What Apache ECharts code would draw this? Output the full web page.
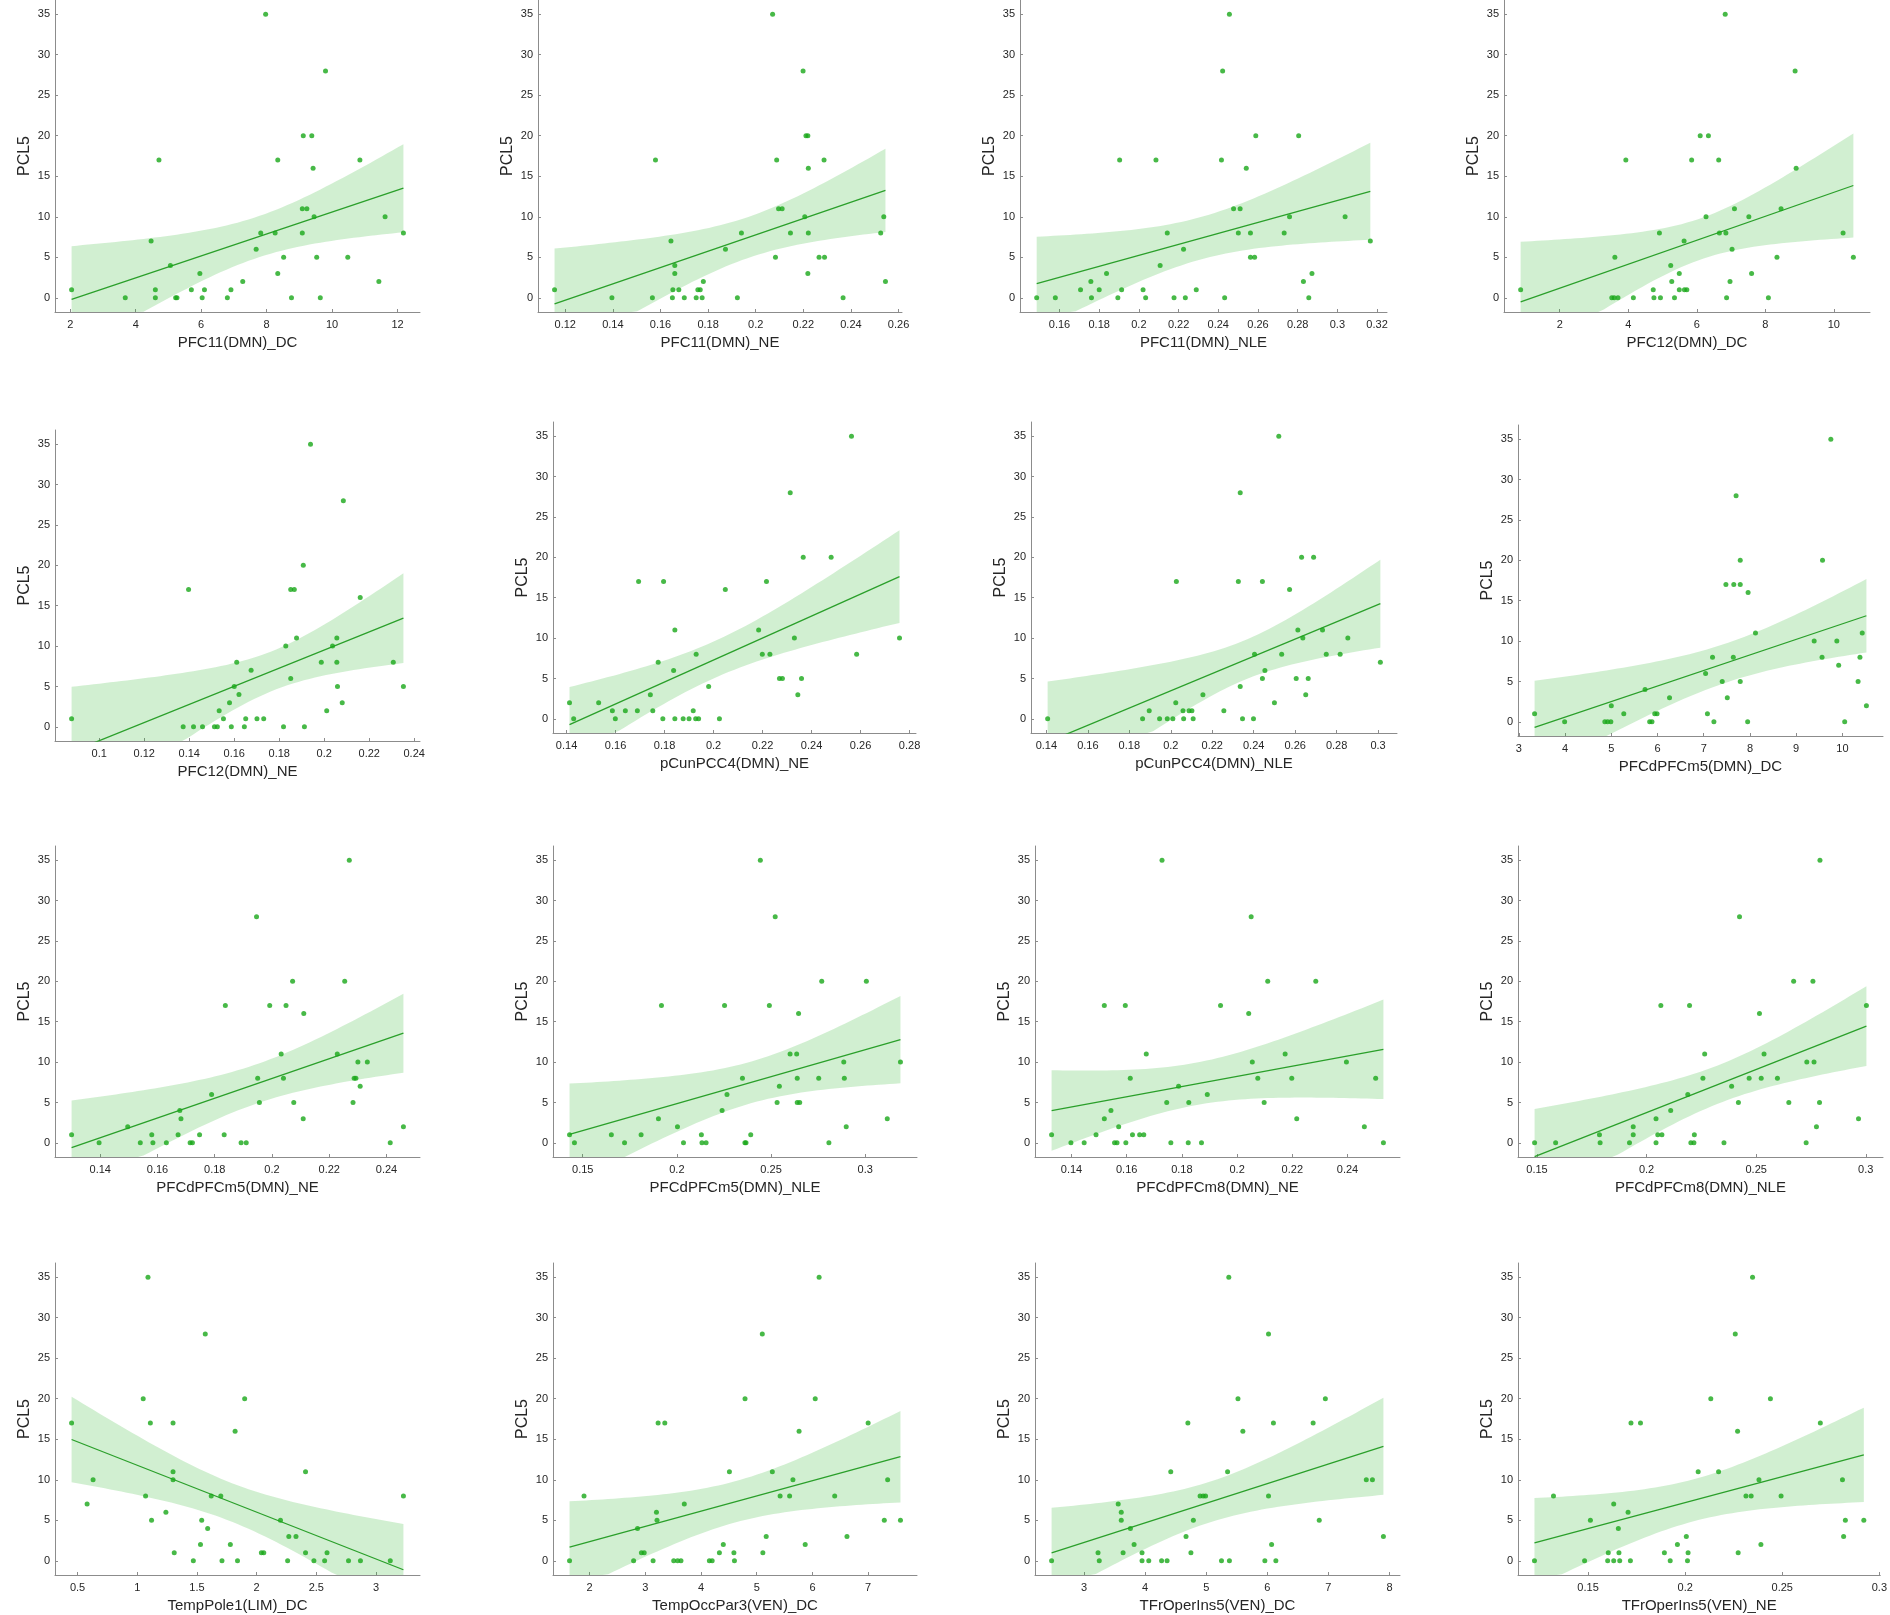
<!DOCTYPE html>
<html>
<head>
<meta charset="utf-8">
<title>PCL5 scatter plots</title>
<script src="https://cdn.jsdelivr.net/npm/echarts@6/dist/echarts.min.js"></script>
<style>
  html, body { margin: 0; padding: 0; background: #fff; }
  #chart { width: 1890px; height: 1615px; }
</style>
</head>
<body>
<div id="chart"></div>
<script>
// x labels of the 16 panels, y is always PCL5
const panelNames = [
    'PFC11(DMN)_DC', 'PFC11(DMN)_NE', 'PFC11(DMN)_NLE', 'PFC12(DMN)_DC',
    'PFC12(DMN)_NE', 'pCunPCC4(DMN)_NE', 'pCunPCC4(DMN)_NLE', 'PFCdPFCm5(DMN)_DC',
    'PFCdPFCm5(DMN)_NE', 'PFCdPFCm5(DMN)_NLE', 'PFCdPFCm8(DMN)_NE', 'PFCdPFCm8(DMN)_NLE',
    'TempPole1(LIM)_DC', 'TempOccPar3(VEN)_DC', 'TFrOperIns5(VEN)_DC', 'TFrOperIns5(VEN)_NE'
];

const xTicks = [
    [2, 4, 6, 8, 10, 12],
    [0.12, 0.14, 0.16, 0.18, 0.2, 0.22, 0.24, 0.26],
    [0.16, 0.18, 0.2, 0.22, 0.24, 0.26, 0.28, 0.3, 0.32],
    [2, 4, 6, 8, 10],
    [0.1, 0.12, 0.14, 0.16, 0.18, 0.2, 0.22, 0.24],
    [0.14, 0.16, 0.18, 0.2, 0.22, 0.24, 0.26, 0.28],
    [0.14, 0.16, 0.18, 0.2, 0.22, 0.24, 0.26, 0.28, 0.3],
    [3, 4, 5, 6, 7, 8, 9, 10],
    [0.14, 0.16, 0.18, 0.2, 0.22, 0.24],
    [0.15, 0.2, 0.25, 0.3],
    [0.14, 0.16, 0.18, 0.2, 0.22, 0.24],
    [0.15, 0.2, 0.25, 0.3],
    [0.5, 1, 1.5, 2, 2.5, 3],
    [2, 3, 4, 5, 6, 7],
    [3, 4, 5, 6, 7, 8],
    [0.15, 0.2, 0.25, 0.3]
];

const yTicks = [0, 5, 10, 15, 20, 25, 30, 35];

// [x, PCL5] per panel
const pfc11Dc = [[2.04,1],[3.68,0],[4.47,7],[4.6,1],[4.6,0],[4.71,17],[5.06,4],[5.22,0],[5.26,0],[5.7,1],[5.96,3],[6.03,0],[6.1,1],[6.8,0],[6.91,1],[7.27,2],[7.68,6],[7.82,8],[7.97,35],[8.26,8],[8.34,17],[8.34,3],[8.52,5],[8.76,0],[9.09,11],[9.23,11],[9.09,8],[9.12,20],[9.38,20],[9.42,16],[9.45,10],[9.53,5],[9.64,0],[9.8,28],[10.48,5],[10.85,17],[11.43,2],[11.62,10],[12.18,8]];
const pfc11Ne = [[0.1155,1],[0.1396,0],[0.1566,0],[0.1579,17],[0.1644,7],[0.165,0],[0.1652,1],[0.166,4],[0.166,3],[0.1677,1],[0.17,0],[0.175,0],[0.1757,1],[0.1767,1],[0.1775,0],[0.178,2],[0.1873,6],[0.1923,0],[0.194,8],[0.2071,35],[0.2083,5],[0.2088,17],[0.2096,11],[0.2111,11],[0.2146,8],[0.2199,28],[0.2206,10],[0.2211,20],[0.2219,20],[0.2219,3],[0.2221,16],[0.2221,8],[0.2266,5],[0.2287,17],[0.2289,5],[0.2367,0],[0.2525,8],[0.2538,10],[0.2545,2]];
const pfc11Nle = [[0.1485,0],[0.1579,0],[0.1706,1],[0.1758,2],[0.1761,0],[0.18,1],[0.1837,3],[0.1894,0],[0.1903,17],[0.1913,1],[0.2021,1],[0.2034,0],[0.2086,17],[0.2107,4],[0.2143,8],[0.2177,0],[0.2225,6],[0.2234,0],[0.2289,1],[0.2416,17],[0.2422,28],[0.2432,0],[0.2456,35],[0.2477,11],[0.2501,8],[0.251,11],[0.2541,16],[0.2562,8],[0.2562,5],[0.2583,5],[0.2589,20],[0.2732,8],[0.2759,10],[0.2805,20],[0.2829,2],[0.2856,0],[0.2872,3],[0.3039,10],[0.3166,7]];
const pfc12Dc = [[0.86,1],[3.52,0],[3.59,0],[3.61,5],[3.7,0],[3.93,17],[4.15,0],[4.73,1],[4.75,0],[4.91,8],[4.94,0],[5.24,4],[5.27,2],[5.35,0],[5.49,3],[5.49,1],[5.63,7],[5.64,1],[5.71,1],[5.85,17],[6.1,20],[6.27,10],[6.34,20],[6.64,17],[6.66,8],[6.83,35],[6.85,8],[6.87,0],[6.97,2],[7.03,6],[7.1,11],[7.52,10],[7.6,3],[8.09,0],[8.34,5],[8.46,11],[8.87,28],[8.9,16],[10.27,8],[10.57,5]];
const pfc12Ne = [[0.0877,1],[0.1373,0],[0.1397,17],[0.1419,0],[0.1459,0],[0.1512,0],[0.1525,0],[0.1533,2],[0.1552,1],[0.1587,0],[0.1579,3],[0.16,5],[0.1611,8],[0.1621,4],[0.1645,0],[0.1651,1],[0.1675,7],[0.1701,1],[0.1731,1],[0.1819,0],[0.1829,10],[0.1851,6],[0.1851,17],[0.1867,17],[0.1877,11],[0.1907,20],[0.1912,0],[0.1939,35],[0.1987,8],[0.2011,2],[0.2037,10],[0.2056,11],[0.2056,8],[0.2059,5],[0.2085,28],[0.208,3],[0.216,16],[0.2307,8],[0.2352,5]];
const pcunNe = [[0.1412,2],[0.1429,0],[0.1531,2],[0.1587,1],[0.1599,0],[0.164,1],[0.1689,1],[0.1694,17],[0.1742,3],[0.1752,1],[0.1774,7],[0.1793,0],[0.1796,17],[0.1837,6],[0.1842,0],[0.1842,11],[0.1876,0],[0.19,0],[0.1917,1],[0.1929,8],[0.1927,0],[0.1939,0],[0.198,4],[0.2024,0],[0.2048,16],[0.2184,11],[0.2199,8],[0.2216,17],[0.223,8],[0.2269,5],[0.2281,5],[0.2313,28],[0.233,10],[0.2344,3],[0.2359,5],[0.2366,20],[0.248,20],[0.2563,35],[0.2584,8],[0.2759,10]];
const pcunNle = [[0.1406,0],[0.1864,0],[0.1896,1],[0.1946,0],[0.1983,0],[0.201,0],[0.2024,2],[0.2027,17],[0.2059,1],[0.2062,0],[0.2088,1],[0.2102,1],[0.2108,0],[0.2155,3],[0.2256,1],[0.2326,17],[0.2335,28],[0.2335,4],[0.2346,0],[0.2399,0],[0.2404,8],[0.2442,17],[0.2442,5],[0.2454,6],[0.25,2],[0.2521,35],[0.2535,8],[0.2573,16],[0.2605,5],[0.2613,11],[0.2631,20],[0.2637,10],[0.2651,3],[0.2663,5],[0.2689,20],[0.2732,11],[0.275,8],[0.2817,8],[0.2854,10],[0.3011,7]];
const dpfc5Dc = [[3.34,1],[3.99,0],[4.86,0],[4.92,0],[4.99,0],[5.0,2],[5.27,1],[5.73,4],[5.83,0],[5.88,0],[5.94,1],[5.99,1],[6.26,3],[7.04,6],[7.08,1],[7.19,8],[7.22,0],[7.4,5],[7.48,17],[7.51,3],[7.64,8],[7.65,17],[7.7,28],[7.79,20],[7.79,5],[7.79,17],[7.96,16],[7.95,0],[8.12,11],[9.39,10],[9.56,8],[9.57,20],[9.75,35],[9.88,10],[9.92,7],[10.05,0],[10.34,5],[10.38,8],[10.43,11],[10.52,2]];
const dpfc5Ne = [[0.13,1],[0.1396,0],[0.1496,2],[0.154,0],[0.158,1],[0.1584,0],[0.1631,0],[0.1672,1],[0.1678,4],[0.1682,3],[0.1714,0],[0.1722,0],[0.1747,1],[0.1789,6],[0.1833,1],[0.1837,17],[0.1892,0],[0.191,0],[0.1946,28],[0.195,8],[0.1956,5],[0.1992,17],[0.2032,11],[0.204,8],[0.2049,17],[0.2072,20],[0.2076,5],[0.2109,3],[0.2111,16],[0.2228,11],[0.2254,20],[0.227,35],[0.2283,5],[0.2287,8],[0.2293,8],[0.23,10],[0.2308,7],[0.2333,10],[0.2413,0],[0.2459,2]];
const dpfc5Nle = [[0.143,1],[0.1456,0],[0.1652,1],[0.1722,0],[0.181,1],[0.1902,3],[0.1918,17],[0.2003,2],[0.2035,0],[0.213,1],[0.2133,0],[0.2155,0],[0.224,4],[0.2253,17],[0.2266,6],[0.2348,8],[0.2361,0],[0.2367,0],[0.2392,1],[0.2443,35],[0.2491,17],[0.2522,28],[0.2532,5],[0.2544,7],[0.2601,11],[0.2636,11],[0.2639,8],[0.2646,16],[0.2639,5],[0.2652,5],[0.2753,8],[0.2769,20],[0.2807,0],[0.2886,10],[0.2889,8],[0.2899,2],[0.3006,20],[0.3117,3],[0.3187,10]];
const dpfc8Ne = [[0.1328,1],[0.1398,0],[0.1446,0],[0.1489,1],[0.1519,3],[0.1519,17],[0.1543,4],[0.1556,0],[0.1565,0],[0.1571,2],[0.1595,17],[0.1597,0],[0.1613,8],[0.1621,1],[0.1647,1],[0.1662,1],[0.1671,11],[0.1728,35],[0.1745,5],[0.176,0],[0.1788,7],[0.1823,0],[0.1825,5],[0.1871,0],[0.1892,6],[0.194,17],[0.2042,16],[0.2051,28],[0.2055,10],[0.2075,8],[0.2098,5],[0.2111,20],[0.2174,11],[0.2198,8],[0.2216,3],[0.2285,20],[0.2396,10],[0.2461,2],[0.2502,8],[0.253,0]];
const dpfc8Nle = [[0.1489,0],[0.1585,0],[0.1785,1],[0.1788,0],[0.1922,0],[0.1939,1],[0.1939,2],[0.2043,3],[0.2043,0],[0.2051,1],[0.2065,17],[0.207,1],[0.211,4],[0.2188,6],[0.2196,17],[0.2202,0],[0.2216,0],[0.2218,1],[0.2257,8],[0.2265,11],[0.2353,0],[0.2388,7],[0.2419,5],[0.2424,28],[0.2468,8],[0.2515,16],[0.2523,8],[0.2536,11],[0.2597,8],[0.2649,5],[0.2671,20],[0.2728,0],[0.2731,10],[0.2759,20],[0.2764,10],[0.2775,2],[0.2789,5],[0.2791,35],[0.2967,3],[0.3003,17]];
const tempPoleDc = [[0.45,17],[0.58,7],[0.63,10],[1.05,20],[1.07,8],[1.09,35],[1.11,17],[1.12,5],[1.24,6],[1.3,17],[1.3,11],[1.3,10],[1.31,1],[1.47,0],[1.53,2],[1.54,5],[1.57,28],[1.59,4],[1.62,8],[1.7,8],[1.71,0],[1.78,2],[1.82,16],[1.84,0],[1.9,20],[2.04,1],[2.06,1],[2.2,5],[2.26,0],[2.27,3],[2.33,3],[2.41,1],[2.41,11],[2.48,0],[2.57,0],[2.59,1],[2.77,0],[2.87,0],[3.12,0],[3.23,8]];
const tempOccDc = [[1.64,0],[1.9,8],[2.79,0],[2.86,4],[2.93,1],[2.98,1],[3.14,0],[3.2,6],[3.21,5],[3.23,17],[3.35,17],[3.51,0],[3.58,0],[3.64,0],[3.7,7],[4.15,0],[4.2,0],[4.33,1],[4.4,2],[4.51,11],[4.59,1],[4.6,0],[4.79,20],[5.1,28],[5.11,1],[5.17,3],[5.28,11],[5.42,8],[5.59,8],[5.65,10],[5.76,16],[5.87,2],[6.05,20],[6.12,35],[6.4,8],[6.62,3],[7.0,17],[7.29,5],[7.35,10],[7.58,5]];
const tfrDc = [[2.47,0],[3.23,1],[3.25,0],[3.56,7],[3.61,6],[3.61,5],[3.64,1],[3.76,4],[3.82,2],[3.95,1],[3.95,0],[4.06,0],[4.27,0],[4.36,0],[4.42,11],[4.67,3],[4.7,17],[4.75,1],[4.79,5],[4.9,8],[4.95,8],[4.99,8],[5.25,0],[5.35,11],[5.37,35],[5.38,0],[5.52,20],[5.6,16],[5.96,0],[6.02,8],[6.02,28],[6.07,2],[6.1,17],[6.14,0],[6.75,17],[6.85,5],[6.95,20],[7.62,10],[7.72,10],[7.9,3]];
const tfrNe = [[0.1224,0],[0.1322,8],[0.1482,0],[0.1512,5],[0.1604,1],[0.1601,0],[0.1632,7],[0.1632,0],[0.1656,4],[0.1659,1],[0.1663,0],[0.1706,6],[0.1718,0],[0.1721,17],[0.177,17],[0.1893,1],[0.1923,0],[0.196,2],[0.2006,3],[0.2012,0],[0.2015,1],[0.2067,11],[0.2132,20],[0.2172,11],[0.2258,28],[0.227,16],[0.2273,1],[0.2313,8],[0.234,8],[0.2347,35],[0.238,10],[0.239,2],[0.2439,20],[0.2494,8],[0.2696,17],[0.281,10],[0.2816,3],[0.2825,5],[0.292,5]];

const panelData = [
    pfc11Dc, pfc11Ne, pfc11Nle, pfc12Dc,
    pfc12Ne, pcunNe, pcunNle, dpfc5Dc,
    dpfc5Ne, dpfc5Nle, dpfc8Ne, dpfc8Nle,
    tempPoleDc, tempOccDc, tfrDc, tfrNe
];

// plot boxes [left, top, width, height] in px
const boxes = [
    [55, 0, 365, 312], [538, 0, 364, 312], [1020, 0, 367, 312], [1504, 0, 366, 312],
    [55, 430, 365, 311], [553, 422, 363, 311], [1031, 422, 366, 311], [1518, 425, 365, 311],
    [55, 846, 365, 311], [553, 846, 364, 311], [1035, 846, 365, 311], [1518, 846, 365, 311],
    [55, 1263, 365, 312], [553, 1263, 364, 312], [1035, 1263, 365, 312], [1518, 1263, 365, 312]
];

const Y_MIN = -1.75, Y_MAX = 36.75;
const DOT = '#19a819', LINE = '#2a9f2a', BAND = 'rgba(40,180,40,0.21)';
const AXIS = '#8c8c8c', TEXT = '#262626';
const FONT = '"Liberation Sans", Arial, sans-serif';

// t(0.975, df) approximation
function tCrit(df) {
    const z = 1.959964;
    return z + (z ** 3 + z) / (4 * df) + (5 * z ** 5 + 16 * z ** 3 + 3 * z) / (96 * df * df);
}

// ordinary least squares + 95% confidence band of the mean
function fitLine(pts) {
    const n = pts.length;
    const mx = pts.reduce((s, p) => s + p[0], 0) / n;
    const my = pts.reduce((s, p) => s + p[1], 0) / n;
    let sxx = 0, sxy = 0;
    pts.forEach(p => { sxx += (p[0] - mx) ** 2; sxy += (p[0] - mx) * (p[1] - my); });
    const b = sxy / sxx, a = my - b * mx;
    let sse = 0;
    pts.forEach(p => { sse += (p[1] - a - b * p[0]) ** 2; });
    const s = Math.sqrt(sse / (n - 2));
    const t = tCrit(n - 2);
    const xs = pts.map(p => p[0]);
    const x0 = Math.min(...xs), x1 = Math.max(...xs);
    const upper = [], lower = [];
    const steps = 60;
    for (let i = 0; i <= steps; i++) {
        const x = x0 + (x1 - x0) * i / steps;
        const yh = a + b * x;
        const h = t * s * Math.sqrt(1 / n + (x - mx) ** 2 / sxx);
        upper.push([x, yh + h]);
        lower.push([x, Math.max(yh - h, Y_MIN)]);
    }
    return {
        line: [[x0, a + b * x0], [x1, a + b * x1]],
        band: upper.concat(lower.reverse()),
        x0, x1
    };
}

const chart = echarts.init(document.getElementById('chart'), null, { renderer: 'canvas' });

const grids = [], xAxes = [], yAxes = [], series = [];

panelData.forEach((pts, i) => {
    const fit = fitLine(pts);
    const pad = (fit.x1 - fit.x0) * 0.05;
    const b = boxes[i];
    grids.push({ left: b[0], top: b[1], width: b[2], height: b[3], containLabel: false });

    xAxes.push({
        gridIndex: i,
        type: 'value',
        min: fit.x0 - pad,
        max: fit.x1 + pad,
        name: panelNames[i],
        nameLocation: 'middle',
        nameGap: 23,
        nameTextStyle: { fontSize: 15, color: TEXT, fontFamily: FONT },
        axisLine: { onZero: false, lineStyle: { color: AXIS, width: 1 } },
        axisTick: { inside: true, length: 3, lineStyle: { color: AXIS }, customValues: xTicks[i] },
        axisLabel: { fontSize: 11, color: TEXT, fontFamily: FONT, margin: 7, customValues: xTicks[i] },
        splitLine: { show: false }
    });
    yAxes.push({
        gridIndex: i,
        type: 'value',
        min: Y_MIN,
        max: Y_MAX,
        name: 'PCL5',
        nameLocation: 'middle',
        nameGap: 22,
        nameTextStyle: { fontSize: 16, color: TEXT, fontFamily: FONT },
        axisLine: { onZero: false, lineStyle: { color: AXIS, width: 1 } },
        axisTick: { inside: true, length: 3, lineStyle: { color: AXIS }, customValues: yTicks },
        axisLabel: { fontSize: 11, color: TEXT, fontFamily: FONT, margin: 5, customValues: yTicks },
        splitLine: { show: false }
    });

    const band = fit.band;
    series.push({
        type: 'custom',
        xAxisIndex: i,
        yAxisIndex: i,
        clip: true,
        silent: true,
        z: 1,
        data: [[fit.x0, 0]],
        renderItem: (params, api) => ({
            type: 'polygon',
            shape: { points: band.map(p => api.coord(p)) },
            style: { fill: BAND }
        })
    });
    series.push({
        type: 'line',
        xAxisIndex: i,
        yAxisIndex: i,
        data: fit.line,
        symbol: 'none',
        clip: true,
        z: 2,
        lineStyle: { color: LINE, width: 1.3 }
    });
    series.push({
        type: 'scatter',
        xAxisIndex: i,
        yAxisIndex: i,
        data: pts,
        symbolSize: 5,
        z: 3,
        itemStyle: { color: DOT }
    });
});

chart.setOption({
    animation: false,
    backgroundColor: '#ffffff',
    grid: grids,
    xAxis: xAxes,
    yAxis: yAxes,
    series: series
});
</script>
</body>
</html>
